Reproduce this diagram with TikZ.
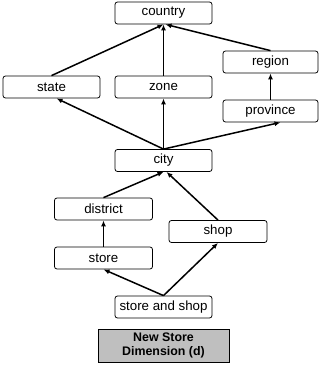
\documentclass[tikz,border=0pt]{standalone}
\usepackage{fontspec}
\setmainfont{Liberation Sans}
\usetikzlibrary{arrows.meta}
\begin{document}
\begin{tikzpicture}[x=1pt,y=-1pt,
  lvl/.style={draw,rounded corners=2.5pt,line width=0.8pt,minimum width=97pt,minimum height=22pt,inner sep=0pt,font=\fontsize{13.3}{15}\selectfont},
  dim/.style={draw,fill=black!25,line width=0.9pt,minimum width=131pt,minimum height=33pt,inner sep=0pt,align=center,font=\fontsize{12.4}{14.5}\selectfont\bfseries},
  arr/.style={-{Latex[length=6pt,width=5pt]},line width=1.5pt}]
\useasboundingbox (0,0) rectangle (321,369);
\node[lvl] (country) at (163.5,13) {country};
\node[lvl] (state) at (51.5,87) {state};
\node[lvl] (zone) at (163.5,87) {zone};
\node[lvl,minimum width=95pt] (region) at (270.5,62) {region};
\node[lvl,minimum width=95pt] (province) at (270.5,111) {province};
\node[lvl] (city) at (163.5,160.5) {city};
\node[lvl,minimum width=98pt] (district) at (103.5,209) {district};
\node[lvl,minimum width=98pt] (shop) at (218,231.5) {shop};
\node[lvl,minimum width=98pt] (store) at (103.5,258) {store};
\node[lvl] (ss) at (163.5,307) {store and shop};
\node[dim] (dim) at (163.5,345.5) {New Store\\Dimension (d)};
\draw[arr] (state.north) -- (country.south);
\draw[arr] (zone.north) -- (country.south);
\draw[arr] (region.north) -- ([xshift=2pt]country.south);
\draw[arr] (province.north) -- (region.south);
\draw[arr] (city.north) -- ([xshift=5pt]state.south);
\draw[arr] (city.north) -- (zone.south);
\draw[arr] (city.north) -- ([xshift=10pt]province.south);
\draw[arr] (district.north) -- (city.south);
\draw[arr] (shop.north) -- ([xshift=3pt]city.south);
\draw[arr] (store.north) -- (district.south);
\draw[arr] (ss.north) -- (store.south);
\draw[arr] (ss.north) -- (shop.south);
\end{tikzpicture}
\end{document}
